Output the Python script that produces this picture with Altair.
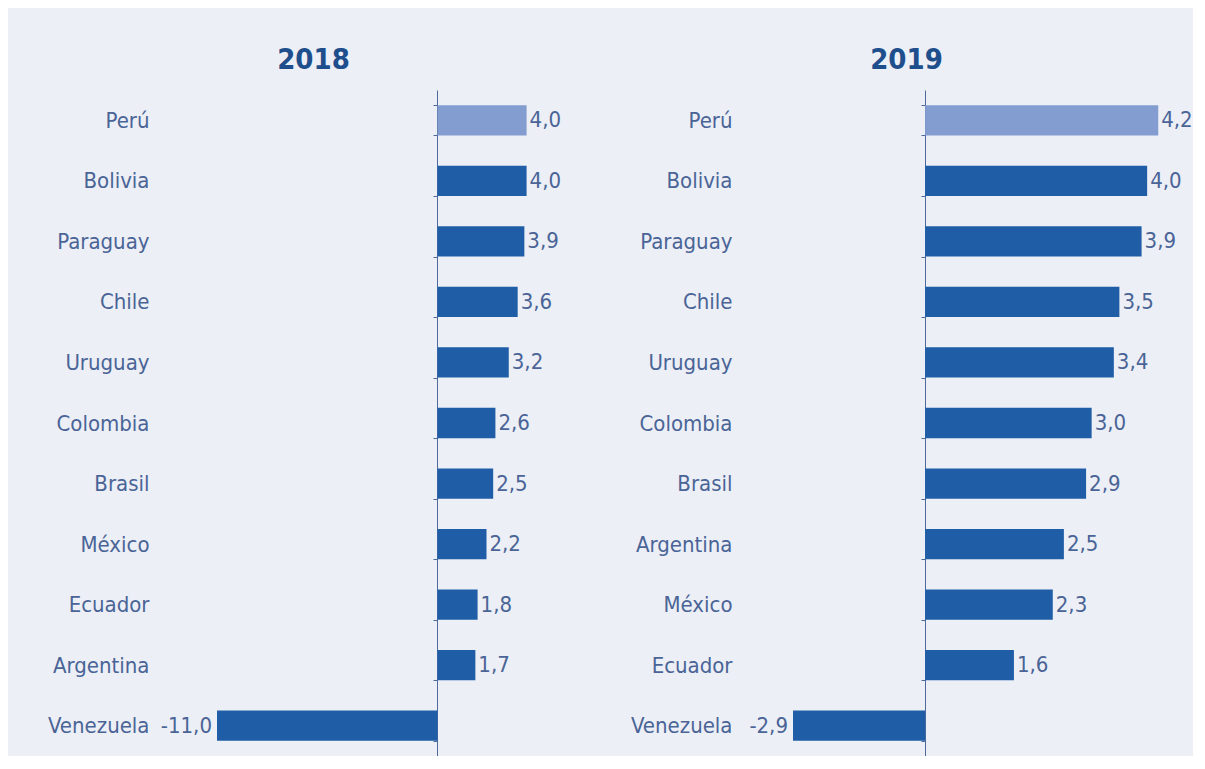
import altair as alt
import pandas as pd

countries_2018 = ["Perú", "Bolivia", "Paraguay", "Chile", "Uruguay", "Colombia",
                  "Brasil", "México", "Ecuador", "Argentina", "Venezuela"]
values_2018 = [4.0, 4.0, 3.9, 3.6, 3.2, 2.6, 2.5, 2.2, 1.8, 1.7, -11.0]

countries_2019 = ["Perú", "Bolivia", "Paraguay", "Chile", "Uruguay", "Colombia",
                  "Brasil", "Argentina", "México", "Ecuador", "Venezuela"]
values_2019 = [4.2, 4.0, 3.9, 3.5, 3.4, 3.0, 2.9, 2.5, 2.3, 1.6, -2.9]

FONT = "DejaVu Sans Condensed, sans-serif"
DARK = "#1f5ea6"
LIGHT = "#839dd0"
TEXT = "#4a6496"
TITLE = "#1f4e8c"
BG = "#eceff6"
FS = 22


def panel(countries, values, title, xmin, xmax, width, axis_offset, label_pad, title_dx):
    df = pd.DataFrame({"pais": countries, "valor": values})
    base = alt.Chart(df).transform_calculate(
        etiqueta="(datum.valor < 0 ? '-' : '') + replace(format(abs(datum.valor), '.1f'), '.', ',')"
    )
    y = alt.Y(
        "pais:N",
        sort=countries,
        scale=alt.Scale(paddingInner=0.5, paddingOuter=0.25),
        axis=alt.Axis(
            title=None,
            offset=axis_offset,
            labelPadding=label_pad,
            tickBand="extent",
            tickSize=4,
            domainColor="#4d6a9a",
            tickColor="#4d6a9a",
            labelColor=TEXT,
            labelFont=FONT,
            labelFontSize=FS,
            grid=False,
        ),
    )
    x = alt.X(
        "valor:Q",
        scale=alt.Scale(domain=[xmin, xmax], clamp=True, nice=False, zero=False),
        axis=None,
    )
    bars = base.mark_bar().encode(
        y=y,
        x=x,
        x2=alt.datum(0),
        color=alt.condition(alt.datum.pais == "Perú", alt.value(LIGHT), alt.value(DARK)),
    )
    pos = base.transform_filter("datum.valor >= 0").mark_text(
        align="left", baseline="middle", dx=3, font=FONT, fontSize=FS, color=TEXT
    ).encode(y=alt.Y("pais:N", sort=countries), x="valor:Q", text="etiqueta:N")
    neg = base.transform_filter("datum.valor < 0").mark_text(
        align="right", baseline="middle", dx=-5, font=FONT, fontSize=FS, color=TEXT
    ).encode(y=alt.Y("pais:N", sort=countries), x="valor:Q", text="etiqueta:N")
    return alt.layer(bars, pos, neg).properties(
        width=width,
        height=666,
        title=alt.TitleParams(
            text=title, font=FONT, fontSize=29, fontWeight="bold", color=TITLE,
            anchor="middle", dx=title_dx, offset=4,
        ),
    )


left = panel(countries_2018, values_2018, "2018", -9.9, 5.5, 343, -220, 284, -75)
right = panel(countries_2019, values_2019, "2019", -2.38, 4.7, 393, -132, 189, -83)

chart = alt.hconcat(left, right, spacing=68).properties(
    background=BG,
    padding={"left": 39, "top": 38, "right": 0, "bottom": 0},
).configure_view(stroke=None)

chart.save("out.html", embed_options={"renderer": "svg", "actions": False})
